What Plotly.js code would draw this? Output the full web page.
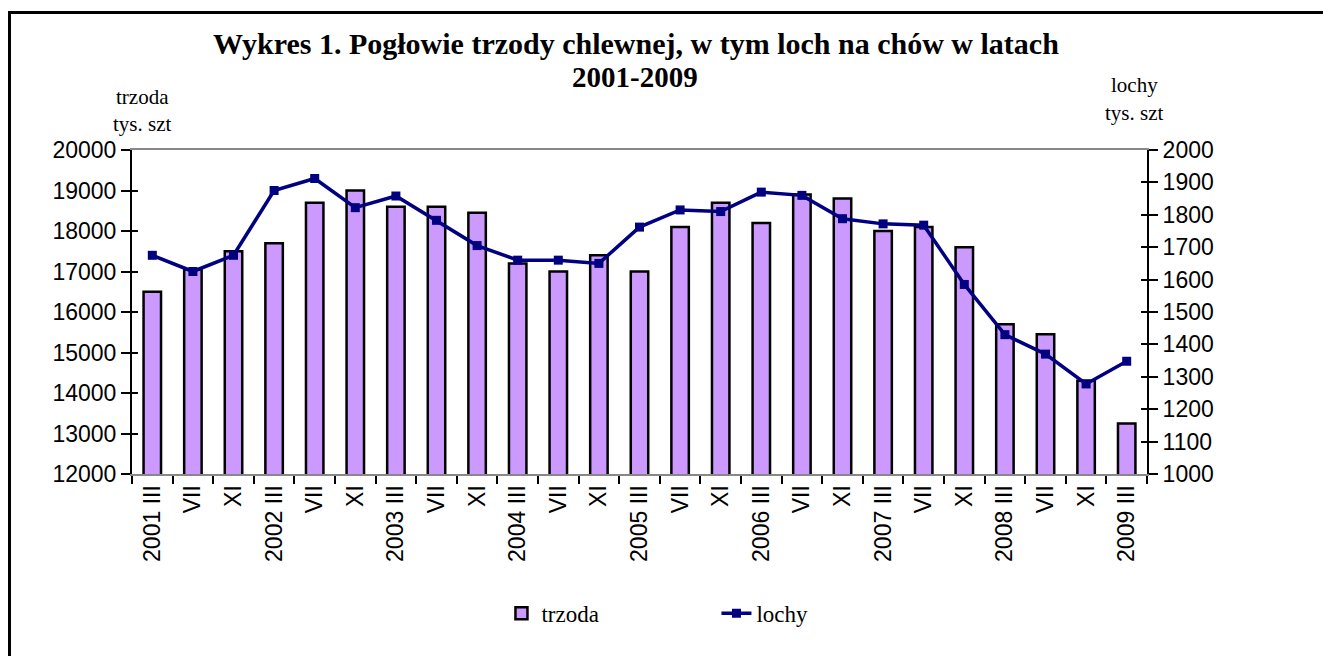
<!DOCTYPE html>
<html>
<head>
<meta charset="utf-8">
<script src="https://cdn.plot.ly/plotly-3.0.1.min.js"></script>
<style>
  html, body { margin: 0; padding: 0; background: #fff; }
  #chart { width: 1323px; height: 656px; }
  #frame { position: absolute; left: 8px; top: 11px; width: 1330px; height: 660px;
           border-top: 3px solid #000; border-left: 3px solid #000; pointer-events: none; }
</style>
</head>
<body>
<div id="chart"></div>
<div id="frame"></div>
<script>
const periods = ["2001 III","2001 VII","2001 XI","2002 III","2002 VII","2002 XI","2003 III","2003 VII","2003 XI",
  "2004 III","2004 VII","2004 XI","2005 III","2005 VII","2005 XI","2006 III","2006 VII","2006 XI",
  "2007 III","2007 VII","2007 XI","2008 III","2008 VII","2008 XI","2009 III"];
const tickLabels = ["2001 III","VII","XI","2002 III","VII","XI","2003 III","VII","XI",
  "2004 III","VII","XI","2005 III","VII","XI","2006 III","VII","XI",
  "2007 III","VII","XI","2008 III","VII","XI","2009 III"];
const trzoda = [16500,17050,17500,17700,18700,19000,18600,18600,18450,17200,17000,17400,17000,
  18100,18700,18200,18900,18800,18000,18100,17600,15700,15450,14300,13250];
const lochy = [1675,1625,1675,1875,1912,1822,1858,1783,1705,1660,1660,1650,1762,
  1815,1810,1870,1860,1788,1772,1768,1585,1430,1370,1278,1348];
const leftTicks = [12000,13000,14000,15000,16000,17000,18000,19000,20000];
const rightTicks = [1000,1100,1200,1300,1400,1500,1600,1700,1800,1900,2000];

const serif = "Liberation Serif, Times New Roman, serif";
const sans = "Liberation Sans, Arial, sans-serif";

const traces = [
  { type: "bar", name: "trzoda", x: periods, y: trzoda, width: 0.43,
    marker: { color: "#CC99FF", line: { color: "#000", width: 2.5 } }, yaxis: "y" },
  { type: "scatter", mode: "lines+markers", name: "lochy", x: periods, y: lochy, yaxis: "y2",
    line: { color: "#000080", width: 3.5 },
    marker: { symbol: "square", size: 9, color: "#000080" } },
  /* empty helper traces so the inner halves of the crossing ticks are drawn */
  { type: "scatter", x: [], y: [], yaxis: "y3", showlegend: false, hoverinfo: "skip" },
  { type: "scatter", x: [], y: [], yaxis: "y4", showlegend: false, hoverinfo: "skip" }
];

const axisBase = {
  showgrid: false, zeroline: false, showline: true, linecolor: "#000", linewidth: 2,
  ticks: "outside", ticklen: 9, tickwidth: 2, tickcolor: "#000",
  tickfont: { family: sans, size: 23, color: "#000" }
};

const layout = {
  width: 1323, height: 656,
  paper_bgcolor: "#fff", plot_bgcolor: "#fff",
  margin: { l: 132, r: 176, t: 150, b: 182 },
  showlegend: true,
  title: {
    text: "<b>Wykres 1. Pogłowie trzody chlewnej, w tym loch na chów w latach</b>",
    font: { family: serif, size: 30, color: "#000" },
    xref: "container", yref: "container", x: 0.4807, xanchor: "center", y: 0.934, yanchor: "middle"
  },
  xaxis: {
    type: "category", range: [-0.5, 24.5], tickmode: "array", tickvals: periods, ticktext: tickLabels,
    tickangle: -90, tickson: "boundaries",
    ticks: "outside", ticklen: 8, tickwidth: 2, tickcolor: "#000",
    showline: true, linecolor: "#888", linewidth: 2, mirror: true,
    showgrid: false, zeroline: false,
    tickfont: { family: sans, size: 23, color: "#000" }
  },
  yaxis: Object.assign({}, axisBase, {
    range: [12000, 20000], tickmode: "array", tickvals: leftTicks, tickformat: "d"
  }),
  yaxis2: Object.assign({}, axisBase, {
    overlaying: "y", side: "right", range: [1000, 2000], tickmode: "array", tickvals: rightTicks, tickformat: "d"
  }),
  yaxis3: Object.assign({}, axisBase, {
    overlaying: "y", side: "left", range: [12000, 20000], tickmode: "array", tickvals: leftTicks,
    ticks: "inside", ticklen: 6, showticklabels: false
  }),
  yaxis4: Object.assign({}, axisBase, {
    overlaying: "y", side: "right", range: [1000, 2000], tickmode: "array", tickvals: rightTicks,
    ticks: "inside", ticklen: 6, showticklabels: false
  }),
  legend: {
    orientation: "h", x: 0.364, xanchor: "left", y: -0.43, yanchor: "middle",
    font: { family: serif, size: 23, color: "#000" },
    entrywidth: 170, entrywidthmode: "pixels", bgcolor: "rgba(0,0,0,0)",
    traceorder: "normal"
  },
  annotations: [
    { text: "<b>2001-2009</b>", xref: "paper", yref: "paper", x: 0.4956, y: 1.225, showarrow: false,
      xanchor: "center", yanchor: "middle", font: { family: serif, size: 29, color: "#000" } },
    { text: "trzoda", xref: "paper", yref: "paper", x: 0.0108, y: 1.1636, showarrow: false,
      xanchor: "center", yanchor: "middle", font: { family: serif, size: 21, color: "#000" } },
    { text: "tys. szt", xref: "paper", yref: "paper", x: 0.0108, y: 1.08, showarrow: false,
      xanchor: "center", yanchor: "middle", font: { family: serif, size: 21, color: "#000" } },
    { text: "lochy", xref: "paper", yref: "paper", x: 0.988, y: 1.2006, showarrow: false,
      xanchor: "center", yanchor: "middle", font: { family: serif, size: 21, color: "#000" } },
    { text: "tys. szt", xref: "paper", yref: "paper", x: 0.988, y: 1.114, showarrow: false,
      xanchor: "center", yanchor: "middle", font: { family: serif, size: 21, color: "#000" } }
  ]
};

Plotly.newPlot("chart", traces, layout, { displayModeBar: false, staticPlot: true });
</script>
</body>
</html>
